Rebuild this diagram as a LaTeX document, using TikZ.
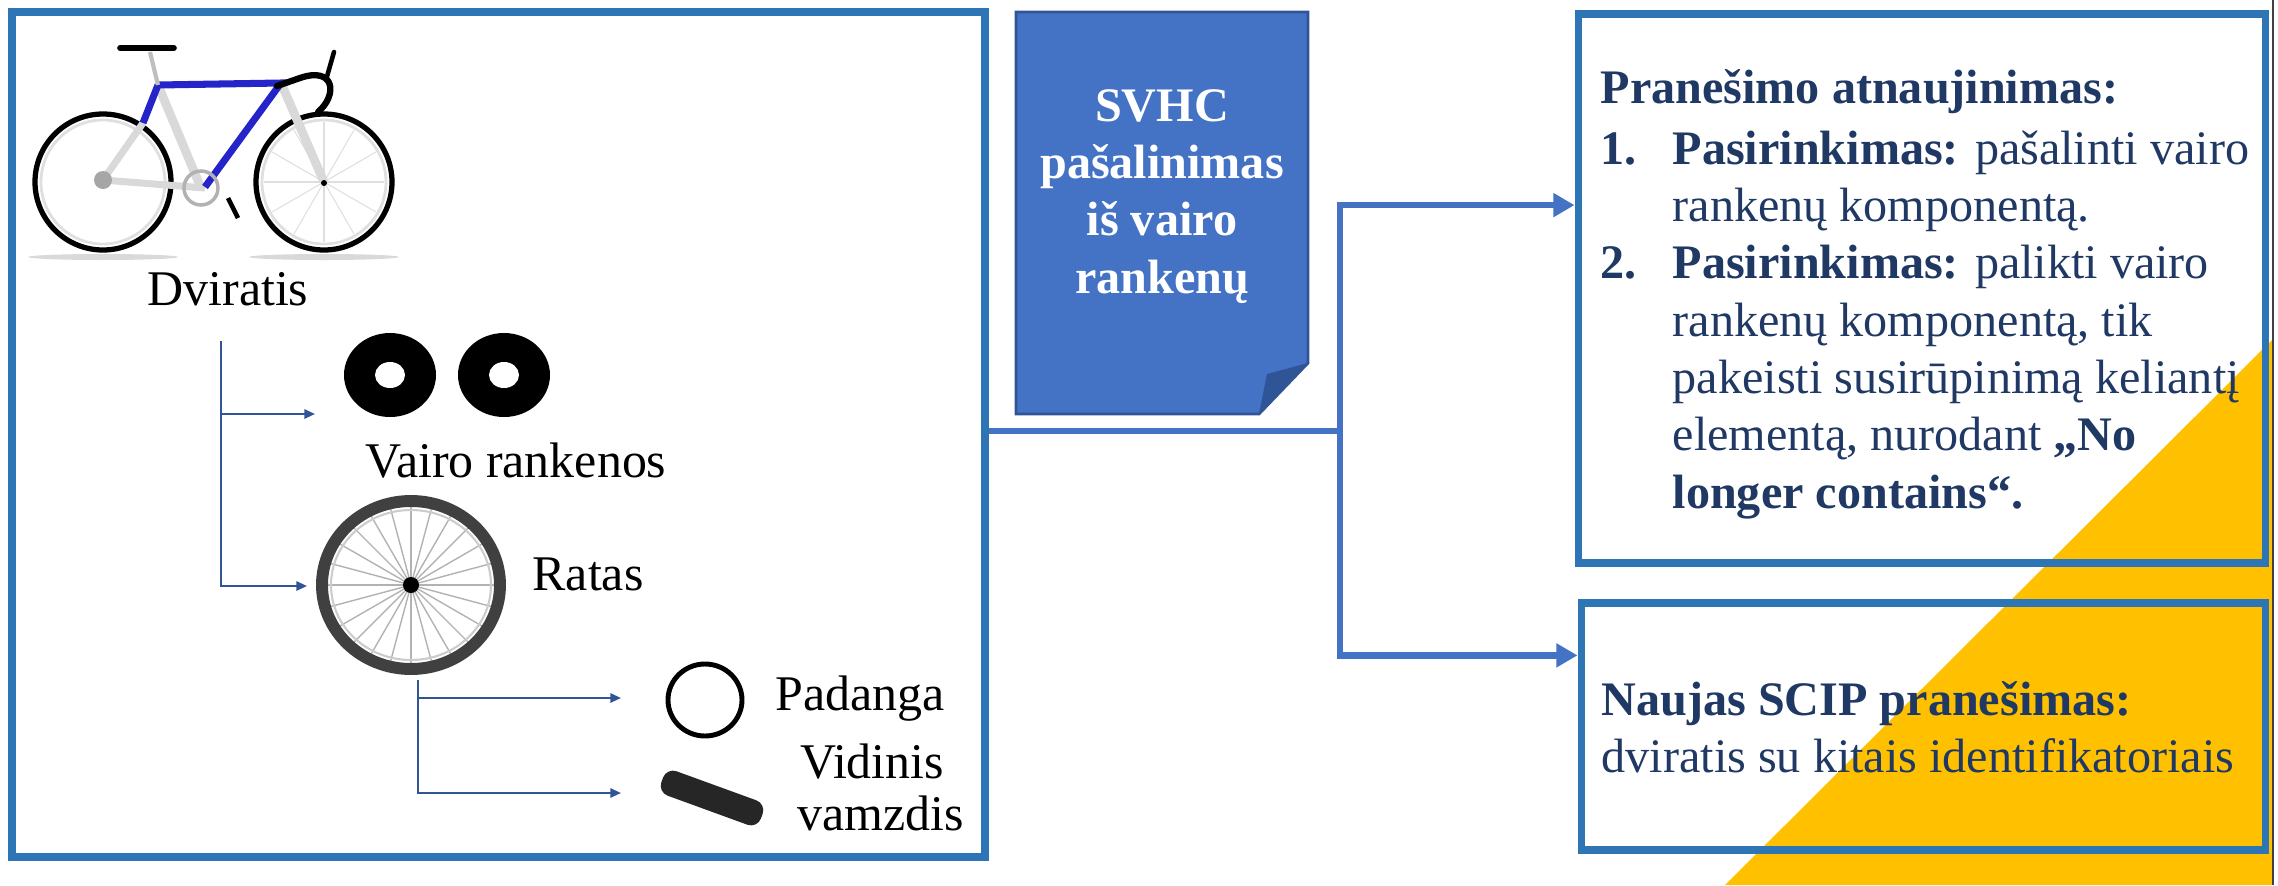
\documentclass[tikz,border=0pt]{standalone}
\usepackage{fontspec}
\setmainfont{Liberation Serif}
\usepackage{tikz}
\usetikzlibrary{arrows.meta,positioning,calc}

\definecolor{boxblue}{HTML}{2E75B6}
\definecolor{linkblue}{HTML}{4472C4}
\definecolor{darkblue}{HTML}{2F5597}
\definecolor{navy}{HTML}{1F3864}
\definecolor{gold}{HTML}{FFC000}
\definecolor{frameblue}{HTML}{2424C8}

\tikzset{
  outbox/.style={draw=boxblue,line width=2pt,inner sep=0pt},
  link/.style={draw=linkblue,line width=1.8pt,-{Triangle[length=6pt,width=6.5pt]}},
  linkline/.style={draw=linkblue,line width=1.8pt},
  treelink/.style={draw=darkblue,line width=0.6pt,-{Triangle[length=3pt,width=2.6pt]}},
  lbl/.style={font=\fontsize{14.2}{16}\selectfont,inner sep=0pt,anchor=base},
  note/.style={font=\fontsize{13.7}{16.3}\selectfont,text=navy,inner sep=0pt,align=left,anchor=base west},
}

\begin{document}
\begin{tikzpicture}[x=0.1mm,y=-0.1mm]
  \useasboundingbox (0,0) rectangle (2278,885);

  % yellow corner
  \fill[gold] (2272,340) -- (2272,885) -- (1725,885) -- cycle;
  \draw[black!75,line width=0.8pt] (2273,0) -- (2273,885);

  % boxes
  \node[outbox,minimum width=97.3mm,minimum height=84.5mm] (items) at (498.5,434.5) {};
  \node[outbox,minimum width=68.7mm,minimum height=54.9mm] (upd) at (1921.5,288.5) {};
  \node[outbox,minimum width=68.4mm,minimum height=24.7mm] (new) at (1923,726.5) {};

  % bicycle
  \fill[gray!30] (103,257) ellipse[x radius=75,y radius=3];
  \fill[gray!30] (324,257) ellipse[x radius=75,y radius=3];
  \foreach \cx in {103,324}{
    \draw[gray!25,line width=0.8pt] (\cx,182) circle[radius=62];
    \draw[black,line width=1.5pt] (\cx,182) circle[radius=68];
  }
  \foreach \a in {0,30,...,330}
    \draw[gray!25,line width=0.3pt] (324,182) -- ++(\a:60);
  \draw[gray!30,line width=2pt] (205,188) -- (103,180) -- (143,123);
  \draw[gray!30,line width=2.5pt] (158,85) -- (201,188);
  \draw[gray!30,line width=2.5pt] (281,83) -- (324,182);
  \draw[frameblue,line width=2pt] (158,85) -- (281,83) -- (205,187);
  \draw[frameblue,line width=2pt] (158,85) -- (143,123);
  \draw[gray!50,line width=1.2pt] (150,52) -- (158,85);
  \draw[black,line width=1.6pt,line cap=round] (120,48) -- (174,48);
  \draw[black,line width=1.8pt,line cap=round] (277,86) -- (300,78)
    .. controls (335,66) and (338,95) .. (318,112);
  \draw[black,line width=1.3pt,line cap=round] (326,80) -- (334,52);
  \draw[gray!60,line width=1pt] (201,188) circle[radius=17];
  \draw[black,line width=1.3pt] (228,198) -- (238,218);
  \fill[gray!70] (103,180) circle[radius=9];
  \fill[black] (324,183) circle[radius=3];

  % handlebar grips
  \foreach \gx in {390,504}{
    \fill[black] (\gx,375) ellipse[x radius=46,y radius=42];
    \fill[white] (\gx,375) ellipse[x radius=15,y radius=13];
  }

  % wheel
  \foreach \a in {0,15,...,345}
    \draw[gray!60,line width=0.4pt] (411,585) -- ++(\a:{85*sqrt(1/(1+0.1*sin(\a)^2))});
  \draw[black!75,line width=3.4pt] (411,585) ellipse[x radius=89,y radius=84];
  \draw[gray!40,line width=0.6pt] (411,585) ellipse[x radius=80,y radius=75];
  \fill[black] (411,585) circle[radius=8];

  % tyre and inner tube
  \draw[black,line width=1.4pt] (705,700) ellipse[x radius=37,y radius=36];
  \fill[black!85,rounded corners=3pt,rotate around={-20:(712,798)}]
    (659,785) rectangle (765,811);

  % labels
  \node[lbl] (dvir) at (228,305) {Dviratis};
  \node[lbl] (grip) at (516,477) {Vairo rankenos};
  \node[lbl] (ratas) at (588,590) {Ratas};
  \node[lbl] (pad) at (860,710) {Padanga};
  \node[lbl] (vid) at (872,778) {Vidinis};
  \node[lbl] (vam) at (881,830) {vamzdis};

  % tree connectors
  \coordinate (trunk) at (221,341);
  \coordinate (gripin) at (315,414);
  \coordinate (wheelin) at (307,586);
  \coordinate (hub) at (418,680);
  \coordinate (padin) at (621,698);
  \coordinate (tubein) at (621,793);
  \draw[treelink] (trunk) |- (wheelin);
  \draw[treelink] (trunk |- gripin) -- (gripin);
  \draw[treelink] (hub) |- (tubein);
  \draw[treelink] (hub |- padin) -- (padin);

  % SVHC note
  \fill[linkblue] (1016,12) -- (1308,12) -- (1308,363) -- (1259,414) -- (1016,414) -- cycle;
  \draw[darkblue,line width=0.8pt] (1016,12) -- (1308,12) -- (1308,363) -- (1259,414) -- (1016,414) -- cycle;
  \fill[darkblue] (1259,414) -- (1267,374) -- (1308,363) -- cycle;
  \node[font=\bfseries\fontsize{13.7}{16.3}\selectfont,text=white,align=center,anchor=base,inner sep=0pt]
    (svhc) at (1162,293) {SVHC\\pašalinimas\\iš vairo\\rankenų};

  % main connectors
  \coordinate (split) at (1340,431);
  \coordinate (updin) at ($(upd.north west)!0.35!(upd.south west)$);
  \coordinate (newin) at ($(new.north west)!0.22!(new.south west)$);
  \draw[linkline] (items.east |- split) -- (split);
  \draw[link] (split) |- (updin);
  \draw[link] (split) |- (newin);

  % texts on the right
  \node[note] (updtxt) at (1600,508) {\textbf{Pranešimo atnaujinimas:}\\[1pt]
    \makebox[7.2mm][l]{\textbf{1.}}\textbf{Pasirinkimas:} pašalinti vairo\\
    \hspace*{7.2mm}rankenų komponentą.\\
    \makebox[7.2mm][l]{\textbf{2.}}\textbf{Pasirinkimas:} palikti vairo\\
    \hspace*{7.2mm}rankenų komponentą, tik\\
    \hspace*{7.2mm}pakeisti susirūpinimą keliantį\\
    \hspace*{7.2mm}elementą, nurodant \textbf{„No}\\
    \hspace*{7.2mm}\textbf{longer contains“.}};
  \node[note,font=\fontsize{13.7}{16.2}\selectfont] (newtxt) at (1601,772)
    {\textbf{Naujas SCIP pranešimas:}\\dviratis su kitais identifikatoriais};
\end{tikzpicture}
\end{document}
